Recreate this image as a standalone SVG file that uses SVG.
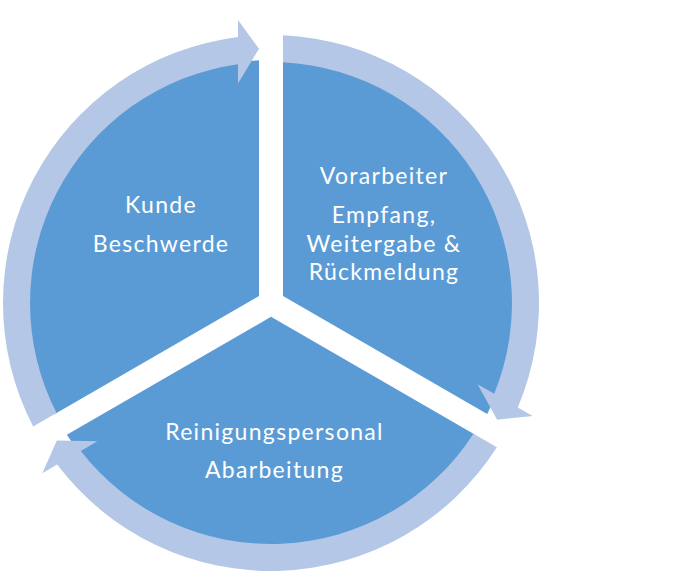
<svg xmlns="http://www.w3.org/2000/svg" xmlns:xlink="http://www.w3.org/1999/xlink" width="694" height="575" viewBox="0 0 694 575">
  <style>
    .seg { fill: #5B9BD5; }
    .arrow { fill: #B4C7E7; }
    .lbl { fill: #FFFFFF; font-family: Lato, "Open Sans", "Liberation Sans", sans-serif; font-size: 23px; letter-spacing: 1.3px; text-anchor: middle; }
  </style>
  <defs>
    <path id="circArrow" class="arrow" d="M 33.14,426.48 A 268 268 0 0 1 238,37.04 L 238,19.9 L 259,48.8 L 238,83.5 L 238,64.3 A 241 241 0 0 0 56.55,412.96 Z"/>
  </defs>
  <rect width="694" height="575" fill="#FFFFFF"/>
  <g id="kunde">
    <path class="seg" d="M 259,296.07 L 54.82,413.96 A 243 243 0 0 1 259,60.3 Z"/>
    <text class="lbl" x="161" y="213">Kunde</text>
    <text class="lbl" x="161" y="252">Beschwerde</text>
  </g>
  <g id="vorarbeiter">
    <path class="seg" d="M 283,296.07 L 283,60.3 A 243 243 0 0 1 487.18,413.96 Z"/>
    <text class="lbl" x="384" y="184">Vorarbeiter</text>
    <text class="lbl" x="384" y="223">Empfang,</text>
    <text class="lbl" x="384" y="252">Weitergabe &amp;</text>
    <text class="lbl" x="384" y="280">Rückmeldung</text>
  </g>
  <g id="reinigungspersonal">
    <path class="seg" d="M 271,316.86 L 475.18,434.74 A 243 243 0 0 1 66.82,434.74 Z"/>
    <text class="lbl" x="274.5" y="440">Reinigungspersonal</text>
    <text class="lbl" x="274.5" y="478">Abarbeitung</text>
  </g>
  <g id="connectors">
    <use xlink:href="#circArrow" href="#circArrow"/>
    <use xlink:href="#circArrow" href="#circArrow" transform="rotate(120 271 303)"/>
    <use xlink:href="#circArrow" href="#circArrow" transform="rotate(240 271 303)"/>
  </g>
</svg>
